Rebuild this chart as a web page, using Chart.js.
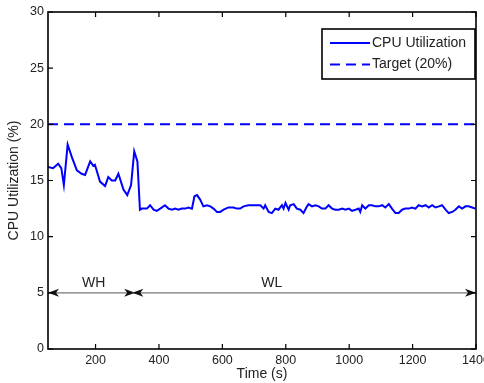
<!DOCTYPE html>
<html>
<head>
<meta charset="utf-8">
<script src="https://cdn.jsdelivr.net/npm/chart.js@4/dist/chart.umd.min.js"></script>
<style>
  html, body { margin: 0; padding: 0; background: #fff; }
  canvas { display: block; }
</style>
</head>
<body>
<canvas id="cpuChart" width="484" height="383"></canvas>
<script>
// sample times (s) and measured CPU utilization (%)
const times = [
  50, 66, 82, 92, 100, 112, 125, 141, 156, 167, 183, 193, 198, 214, 230, 240, 251, 262, 272, 288, 300, 312, 322, 332,
  340, 346, 362, 372, 383, 393, 404, 419, 430, 441, 451, 461, 472, 483, 493, 504, 512, 520, 530, 540,
  551, 562, 572, 583, 593, 604, 619, 635, 646, 656, 667, 682, 698, 709, 720, 730, 735, 746, 756, 767,
  777, 788, 793, 799, 809, 814, 825, 835, 846, 856, 867, 872, 883, 893, 904, 914, 925, 935, 946, 956,
  967, 978, 988, 999, 1009, 1020, 1030, 1035, 1041, 1051, 1062, 1072, 1083, 1093, 1104, 1114, 1125, 1135, 1146, 1156,
  1167, 1177, 1188, 1198, 1209, 1219, 1230, 1241, 1251, 1262, 1272, 1283, 1293, 1304, 1314, 1325, 1335, 1346, 1356, 1367, 1377, 1388, 1398
];
const cpu = [
  16.2, 16.1, 16.5, 16.1, 14.6, 18.2, 17.1, 15.9, 15.6, 15.5, 16.7, 16.3, 16.4, 14.9, 14.5, 15.3, 15.0, 15.0, 15.6, 14.2, 13.7, 14.6, 17.6, 16.7,
  12.4, 12.5, 12.5, 12.8, 12.4, 12.3, 12.5, 12.8, 12.5, 12.4, 12.5, 12.4, 12.5, 12.5, 12.6, 12.5, 13.6, 13.7, 13.3, 12.7,
  12.8, 12.7, 12.5, 12.2, 12.2, 12.4, 12.6, 12.6, 12.5, 12.5, 12.7, 12.8, 12.8, 12.8, 12.8, 12.5, 12.8, 12.2, 12.1, 12.5,
  12.4, 12.8, 12.5, 13.0, 12.4, 12.8, 12.9, 12.5, 12.4, 12.1, 12.7, 12.9, 12.7, 12.8, 12.7, 12.5, 12.5, 12.8, 12.5, 12.4,
  12.4, 12.5, 12.4, 12.5, 12.3, 12.4, 12.5, 12.2, 12.8, 12.5, 12.8, 12.8, 12.7, 12.7, 12.8, 12.6, 12.9, 12.5, 12.1, 12.1,
  12.4, 12.5, 12.5, 12.6, 12.5, 12.8, 12.7, 12.8, 12.6, 12.8, 12.6, 12.7, 12.8, 12.4, 12.1, 12.2, 12.4, 12.7, 12.5, 12.7, 12.7, 12.6, 12.5
];

// target level over the whole run
const targetTimes = [50, 1400];
const targetCpu = [20, 20];

// workload phases: high (WH) then low (WL)
const phaseNames = ['WH', 'WL'];
const phaseStart = [50, 316];
const phaseEnd = [325, 1400];
const phaseLabelAt = [194, 756];
const phaseLevel = 5;

const xTicks = [200, 400, 600, 800, 1000, 1200, 1400];
const yTicks = [0, 5, 10, 15, 20, 25, 30];

const FONT = "'Liberation Sans', Arial, Helvetica, sans-serif";
const TEXT = '#222';

// box frame with inward ticks, phase arrows and the legend
const framePlugin = {
  id: 'frame',
  afterDatasetsDraw(chart) {
    const ctx = chart.ctx;
    const a = chart.chartArea;
    const xs = chart.scales.x, ys = chart.scales.y;
    ctx.save();

    // phase arrows
    const yArrow = ys.getPixelForValue(phaseLevel);
    const head = (tip, dir) => {
      ctx.beginPath();
      ctx.moveTo(tip, yArrow);
      ctx.lineTo(tip - dir * 11, yArrow - 4);
      ctx.lineTo(tip - dir * 8, yArrow);
      ctx.lineTo(tip - dir * 11, yArrow + 4);
      ctx.closePath();
      ctx.fill();
    };
    for (let i = 0; i < phaseNames.length; i++) {
      const x1 = xs.getPixelForValue(phaseStart[i]);
      const x2 = xs.getPixelForValue(phaseEnd[i]);
      ctx.strokeStyle = '#777';
      ctx.lineWidth = 1.2;
      ctx.beginPath();
      ctx.moveTo(x1, yArrow);
      ctx.lineTo(x2, yArrow);
      ctx.stroke();
      ctx.fillStyle = '#111';
      head(x1, -1);
      head(x2, 1);
      ctx.fillStyle = TEXT;
      ctx.font = '14px ' + FONT;
      ctx.textAlign = 'center';
      ctx.textBaseline = 'bottom';
      ctx.fillText(phaseNames[i], xs.getPixelForValue(phaseLabelAt[i]), yArrow - 3);
    }

    // axes box
    ctx.strokeStyle = '#000';
    ctx.lineWidth = 1.6;
    ctx.strokeRect(a.left, a.top, a.right - a.left, a.bottom - a.top);

    // inward ticks on all four sides
    ctx.lineWidth = 1.2;
    ctx.beginPath();
    xTicks.forEach(v => {
      const x = xs.getPixelForValue(v);
      ctx.moveTo(x, a.bottom); ctx.lineTo(x, a.bottom - 5);
      ctx.moveTo(x, a.top); ctx.lineTo(x, a.top + 5);
    });
    yTicks.forEach(v => {
      const y = ys.getPixelForValue(v);
      ctx.moveTo(a.left, y); ctx.lineTo(a.left + 5, y);
      ctx.moveTo(a.right, y); ctx.lineTo(a.right - 5, y);
    });
    ctx.stroke();

    // legend
    const lx = a.left + 274, ly = a.top + 17, lw = a.right - 1 - lx, lh = 50;
    ctx.fillStyle = '#fff';
    ctx.fillRect(lx, ly, lw, lh);
    ctx.strokeStyle = '#000';
    ctx.lineWidth = 1.6;
    ctx.strokeRect(lx, ly, lw, lh);
    ctx.font = '14px ' + FONT;
    ctx.textAlign = 'left';
    ctx.textBaseline = 'middle';
    chart.data.datasets.forEach((ds, i) => {
      const y = ly + 14 + i * 21.5;
      ctx.strokeStyle = ds.borderColor;
      ctx.lineWidth = ds.borderWidth;
      ctx.setLineDash(ds.borderDash || []);
      ctx.beginPath();
      ctx.moveTo(lx + 8, y);
      ctx.lineTo(lx + 48, y);
      ctx.stroke();
      ctx.setLineDash([]);
      ctx.fillStyle = TEXT;
      ctx.fillText(ds.label, lx + 50, y);
    });

    ctx.restore();
  }
};

const ctx = document.getElementById('cpuChart').getContext('2d');
const cpuChart = new Chart(ctx, {
  type: 'line',
  data: {
    datasets: [{
      label: 'CPU Utilization',
      data: times.map((t, i) => ({ x: t, y: cpu[i] })),
      borderColor: '#0000ff',
      borderWidth: 2,
      pointRadius: 0,
      tension: 0
    }, {
      label: 'Target (20%)',
      data: targetTimes.map((t, i) => ({ x: t, y: targetCpu[i] })),
      borderColor: '#0000ff',
      borderWidth: 2,
      borderDash: [10, 6],
      pointRadius: 0
    }]
  },
  options: {
    responsive: false,
    animation: false,
    devicePixelRatio: 1,
    layout: { autoPadding: false, padding: { left: 0, top: 12, right: 8, bottom: 0 } },
    plugins: { legend: { display: false }, tooltip: { enabled: false } },
    scales: {
      x: {
        type: 'linear',
        min: 50,
        max: 1400,
        grid: { display: false, drawTicks: false },
        border: { display: false },
        afterBuildTicks: s => { s.ticks = xTicks.map(v => ({ value: v })); },
        afterFit: s => { s.height = 34; s.paddingLeft = 0; s.paddingRight = 0; },
        ticks: {
          color: TEXT, font: { family: FONT, size: 12.5 }, padding: 4, maxRotation: 0, autoSkip: false,
          callback: v => String(v)
        },
        title: { display: true, text: 'Time (s)', color: TEXT, font: { family: FONT, size: 14 }, padding: { top: 0, bottom: 0 } }
      },
      y: {
        min: 0,
        max: 30,
        grid: { display: false, drawTicks: false },
        border: { display: false },
        afterBuildTicks: s => { s.ticks = yTicks.map(v => ({ value: v })); },
        afterFit: s => { s.width = 48; s.paddingTop = 0; s.paddingBottom = 0; },
        ticks: { color: TEXT, font: { family: FONT, size: 12.5 }, padding: 4, autoSkip: false, callback: v => String(v) },
        title: { display: true, text: 'CPU Utilization (%)', color: TEXT, font: { family: FONT, size: 14 }, padding: { top: 6, bottom: 0 } }
      }
    }
  },
  plugins: [framePlugin]
});
</script>
</body>
</html>
